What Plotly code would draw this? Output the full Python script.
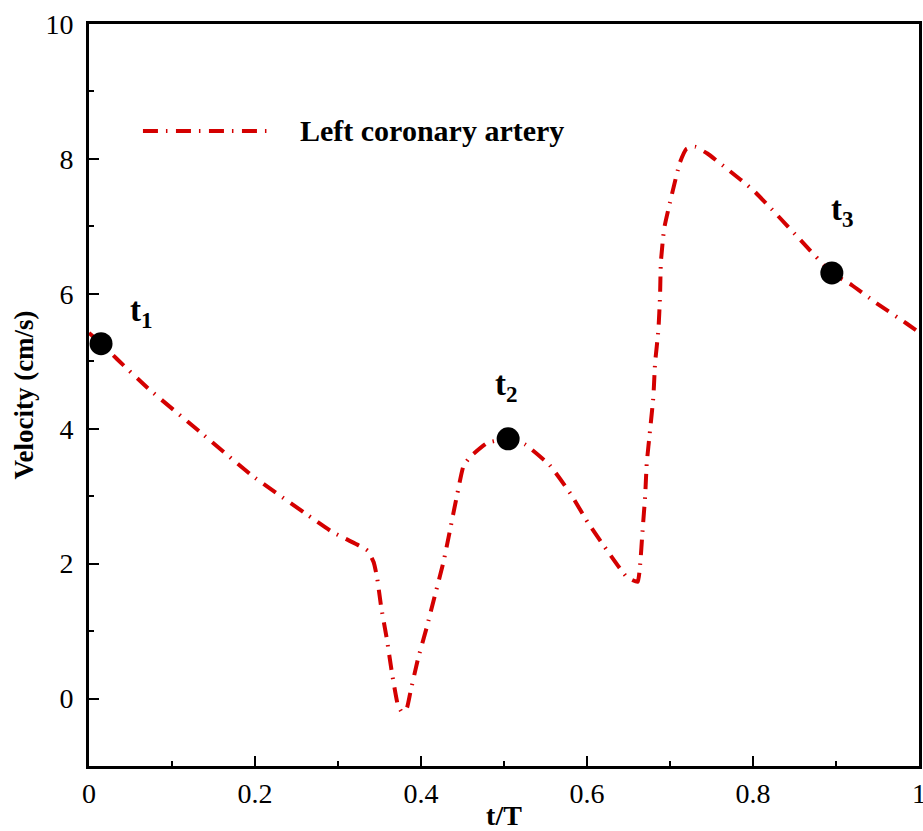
import plotly.graph_objects as go

# Left coronary artery velocity over one cardiac cycle
t_norm = [0.000, 0.015, 0.034, 0.071, 0.134, 0.196, 0.260, 0.293, 0.325, 0.336,
          0.343, 0.347, 0.352, 0.359, 0.365, 0.372, 0.377, 0.383, 0.387, 0.396,
          0.407, 0.417, 0.427, 0.435, 0.443, 0.451, 0.459, 0.480, 0.505, 0.525,
          0.555, 0.580, 0.601, 0.624, 0.648, 0.661, 0.664, 0.667, 0.670, 0.672,
          0.676, 0.680, 0.682, 0.686, 0.688, 0.689, 0.693, 0.702, 0.712, 0.720,
          0.730, 0.745, 0.770, 0.800, 0.829, 0.857, 0.895, 0.919, 0.949, 0.985,
          1.000]
velocity = [5.42, 5.26, 5.03, 4.60, 3.95, 3.31, 2.75, 2.47, 2.27, 2.19,
            2.02, 1.80, 1.36, 0.87, 0.38, -0.09, -0.20, -0.14, 0.08, 0.57,
            1.06, 1.54, 2.02, 2.50, 2.99, 3.44, 3.58, 3.79, 3.85, 3.77,
            3.46, 3.04, 2.61, 2.20, 1.80, 1.73, 1.98, 2.50, 2.99, 3.49,
            3.98, 4.48, 4.97, 5.46, 5.97, 6.47, 6.97, 7.46, 7.95, 8.15,
            8.18, 8.08, 7.84, 7.54, 7.17, 6.80, 6.31, 6.13, 5.86, 5.56,
            5.43]

# Selected instants
instant_t = [0.0145, 0.505, 0.895]
instant_v = [5.26, 3.85, 6.31]
instant_labels = ["t<sub>1</sub>", "t<sub>2</sub>", "t<sub>3</sub>"]
label_pos_t = [0.047, 0.487, 0.892]
label_pos_v = [5.72, 4.62, 7.22]

x_ticks = [0, 0.2, 0.4, 0.6, 0.8, 1]
x_tick_text = ["0", "0.2", "0.4", "0.6", "0.8", "1"]
y_ticks = [0, 2, 4, 6, 8, 10]

series_name = "Left coronary artery"
RED = "rgb(212,0,0)"
DASH = "15px,8px,1.5px,8.5px"
SERIF = "Liberation Serif"

fig = go.Figure()
fig.add_trace(go.Scatter(
    x=t_norm, y=velocity, mode="lines", name=series_name,
    line=dict(color=RED, width=4, dash=DASH, shape="spline", smoothing=0.4),
    showlegend=False,
))
fig.add_trace(go.Scatter(
    x=instant_t, y=instant_v, mode="markers",
    marker=dict(color="black", size=23),
    showlegend=False,
))

for lbl, lx, ly in zip(instant_labels, label_pos_t, label_pos_v):
    fig.add_annotation(
        x=lx, y=ly, text=lbl, showarrow=False, xanchor="left", yanchor="middle",
        font=dict(family=SERIF, size=33, color="black", weight="bold"),
    )

# Legend sample line and label
fig.add_shape(type="line", xref="paper", yref="paper",
              x0=0.065, x1=0.2157, y0=0.8558, y1=0.8558,
              line=dict(color=RED, width=4, dash=DASH))
fig.add_annotation(
    x=0.2518, y=0.857, xref="paper", yref="paper", text=series_name,
    showarrow=False, xanchor="left", yanchor="middle",
    font=dict(family=SERIF, size=30, color="black", weight="bold"),
)

axis_common = dict(
    showline=True, linecolor="black", linewidth=3, mirror=True,
    ticks="inside", ticklen=10, tickwidth=2, tickcolor="black",
    showgrid=False, zeroline=False, automargin=False,
    ticklabeloverflow="allow",
    tickfont=dict(family=SERIF, size=28, color="black"),
)

fig.update_xaxes(
    range=[0, 1], tickvals=x_ticks, ticktext=x_tick_text,
    minor=dict(dtick=0.1, ticks="inside", ticklen=5, tickwidth=1.5, tickcolor="black", tick0=0),
    title=dict(text="<b>t/T</b>", font=dict(family=SERIF, size=28, color="black"), standoff=4),
    ticklabelstandoff=0,
    **axis_common,
)
fig.update_yaxes(
    range=[-1, 10], tickvals=y_ticks,
    minor=dict(dtick=1, ticks="inside", ticklen=5, tickwidth=1.5, tickcolor="black", tick0=0),
    title=dict(text="<b>Velocity (cm/s)</b>", font=dict(family=SERIF, size=27, color="black"), standoff=4),
    ticklabelstandoff=7,
    **axis_common,
)

fig.update_layout(
    width=923, height=831,
    margin=dict(l=89, r=4, t=24, b=65),
    paper_bgcolor="white", plot_bgcolor="white",
)

fig.write_html("out.html")
